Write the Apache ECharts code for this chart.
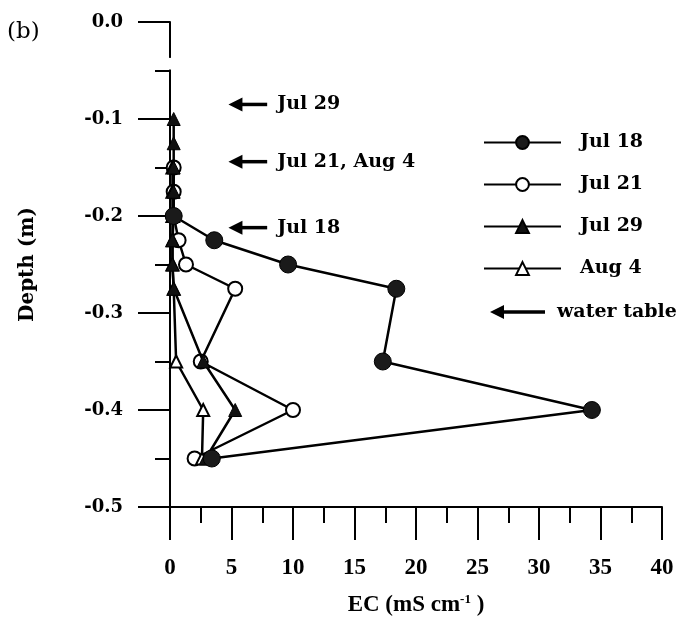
<!DOCTYPE html>
<html><head><meta charset="utf-8">
<script src="https://cdn.jsdelivr.net/npm/echarts@6/dist/echarts.min.js"></script>
<style>html,body{margin:0;padding:0;background:#fff}#c{width:680px;height:634px}</style>
</head><body><div id="c"></div>
<script>
// ---- data ----
const depthJul18 = [-0.2, -0.225, -0.25, -0.275, -0.35, -0.4, -0.45];
const ecJul18    = [0.3, 3.6, 9.6, 18.4, 17.3, 34.3, 3.4];
const depthJul21 = [-0.15, -0.175, -0.2, -0.225, -0.25, -0.275, -0.35, -0.4, -0.45];
const ecJul21    = [0.3, 0.3, 0.3, 0.7, 1.3, 5.3, 2.5, 10.0, 2.0];
const depthJul29 = [-0.1, -0.125, -0.15, -0.175, -0.2, -0.225, -0.25, -0.275, -0.35, -0.4, -0.45];
const ecJul29    = [0.3, 0.3, 0.3, 0.3, 0.3, 0.2, 0.2, 0.3, 2.7, 5.3, 2.9];
const depthAug4  = [-0.15, -0.175, -0.2, -0.225, -0.25, -0.275, -0.35, -0.4, -0.45];
const ecAug4     = [0.2, 0.2, 0.2, 0.2, 0.2, 0.3, 0.5, 2.7, 2.6];
const waterTableLabels = ['Jul 29', 'Jul 21, Aug 4', 'Jul 18'];
const waterTableDepths = [-0.085, -0.144, -0.212];
const arrowTipEC = 4.75, arrowTailEC = 7.9;
const legendNames = ['Jul 18', 'Jul 21', 'Jul 29', 'Aug 4'];

// ---- chart ----
const chart = echarts.init(document.getElementById('c'));
const SERIF = 'DejaVu Serif';
const TIMES = 'Liberation Serif';
const pairs = (xs, ys) => xs.map((v, i) => [v, ys[i]]);
const black = '#000';
const lineW = 2.5;

chart.setOption({
  animation: false,
  backgroundColor: '#fff',
  grid: { left: 170, right: 18, top: 22, bottom: 127 },
  legend: {
    data: legendNames, orient: 'vertical', left: 478, top: 128,
    itemWidth: 77, itemHeight: 16, itemGap: 23,
    textStyle: { fontFamily: SERIF, fontWeight: 'bold', fontSize: 19, color: black, padding: [0, 0, 0, 14] }
  },
  xAxis: {
    type: 'value', min: 0, max: 40, interval: 5,
    axisLine: { onZero: false, lineStyle: { color: black, width: 2 } },
    axisTick: { length: 33, lineStyle: { color: black, width: 2 } },
    minorTick: { show: true, splitNumber: 2, length: 16, lineStyle: { color: black, width: 2 } },
    splitLine: { show: false },
    axisLabel: { margin: 50, color: black, fontFamily: TIMES, fontWeight: 'bold', fontSize: 23 },
    name: 'EC (mS cm{sup|-1} )', nameLocation: 'middle', nameGap: 86,
    nameTextStyle: { color: black, fontFamily: TIMES, fontWeight: 'bold', fontSize: 23,
      rich: { sup: { fontFamily: TIMES, fontWeight: 'bold', fontSize: 13, verticalAlign: 'top', padding: [0, 0, 12, 0] } } }
  },
  yAxis: {
    type: 'value', min: -0.5, max: 0, interval: 0.1,
    axisLine: { onZero: false, lineStyle: { color: black, width: 2 } },
    axisTick: { length: 32, lineStyle: { color: black, width: 2 } },
    minorTick: { show: true, splitNumber: 2, length: 15, lineStyle: { color: black, width: 2 } },
    splitLine: { show: false },
    axisLabel: { margin: 47, color: black, fontFamily: SERIF, fontWeight: 'bold', fontSize: 18,
      formatter: v => v.toFixed(1) },
    name: 'Depth (m)', nameLocation: 'middle', nameGap: 132, nameRotate: 90,
    nameTextStyle: { color: black, fontFamily: SERIF, fontWeight: 'bold', fontSize: 20 }
  },
  series: [
    { name: 'Jul 21', type: 'line', data: pairs(ecJul21, depthJul21), z: 2,
      symbol: 'circle', symbolSize: 14,
      lineStyle: { color: black, width: lineW },
      itemStyle: { color: '#fff', borderColor: black, borderWidth: 2 } },
    { name: 'Aug 4', type: 'line', data: pairs(ecAug4, depthAug4), z: 3,
      symbol: 'triangle', symbolSize: 12,
      lineStyle: { color: black, width: lineW },
      itemStyle: { color: '#fff', borderColor: black, borderWidth: 2 } },
    { name: 'Jul 29', type: 'line', data: pairs(ecJul29, depthJul29), z: 4,
      symbol: 'triangle', symbolSize: 13,
      lineStyle: { color: black, width: lineW },
      itemStyle: { color: '#111', borderColor: black, borderWidth: 1 } },
    { name: 'Jul 18', type: 'line', data: pairs(ecJul18, depthJul18), z: 5,
      symbol: 'circle', symbolSize: 17,
      lineStyle: { color: black, width: lineW },
      itemStyle: { color: '#1a1a1a', borderColor: black, borderWidth: 1 } }
  ]
});

// ---- annotations: water-table arrows, axis break, panel label ----
function arrow(tipX, tailX, y) {
  return [
    { type: 'line', shape: { x1: tipX + 8, y1: y, x2: tailX, y2: y }, style: { stroke: black, lineWidth: 3.5 }, z: 10 },
    { type: 'polygon', shape: { points: [[tipX, y], [tipX + 14, y - 7], [tipX + 14, y + 7]] }, style: { fill: black }, z: 10 }
  ];
}
const g = [];
waterTableDepths.forEach((d, i) => {
  const tip = chart.convertToPixel({ gridIndex: 0 }, [arrowTipEC, d]);
  const tail = chart.convertToPixel({ gridIndex: 0 }, [arrowTailEC, d]);
  g.push(...arrow(tip[0], tail[0], tip[1]));
  g.push({ type: 'text', x: tail[0] + 10, y: tip[1], z: 10,
    style: { text: waterTableLabels[i], fontFamily: SERIF, fontWeight: 'bold', fontSize: 19, fill: black, verticalAlign: 'middle' } });
});
// legend entry for water table
g.push(...arrow(490, 545, 312));
g.push({ type: 'text', x: 557, y: 312, z: 10,
  style: { text: 'water table', fontFamily: SERIF, fontWeight: 'bold', fontSize: 19, fill: black, verticalAlign: 'middle' } });
// axis break
const b1 = chart.convertToPixel({ gridIndex: 0 }, [0, -0.037]);
const b2 = chart.convertToPixel({ gridIndex: 0 }, [0, -0.049]);
g.push({ type: 'rect', shape: { x: b1[0] - 4, y: b1[1], width: 8, height: b2[1] - b1[1] }, style: { fill: '#fff' }, z: 20 });
// panel label
g.push({ type: 'text', x: 7, y: 32, z: 10,
  style: { text: '(b)', fontFamily: SERIF, fontSize: 23, fill: black, verticalAlign: 'middle' } });
chart.setOption({ graphic: g });
</script>
</body></html>
